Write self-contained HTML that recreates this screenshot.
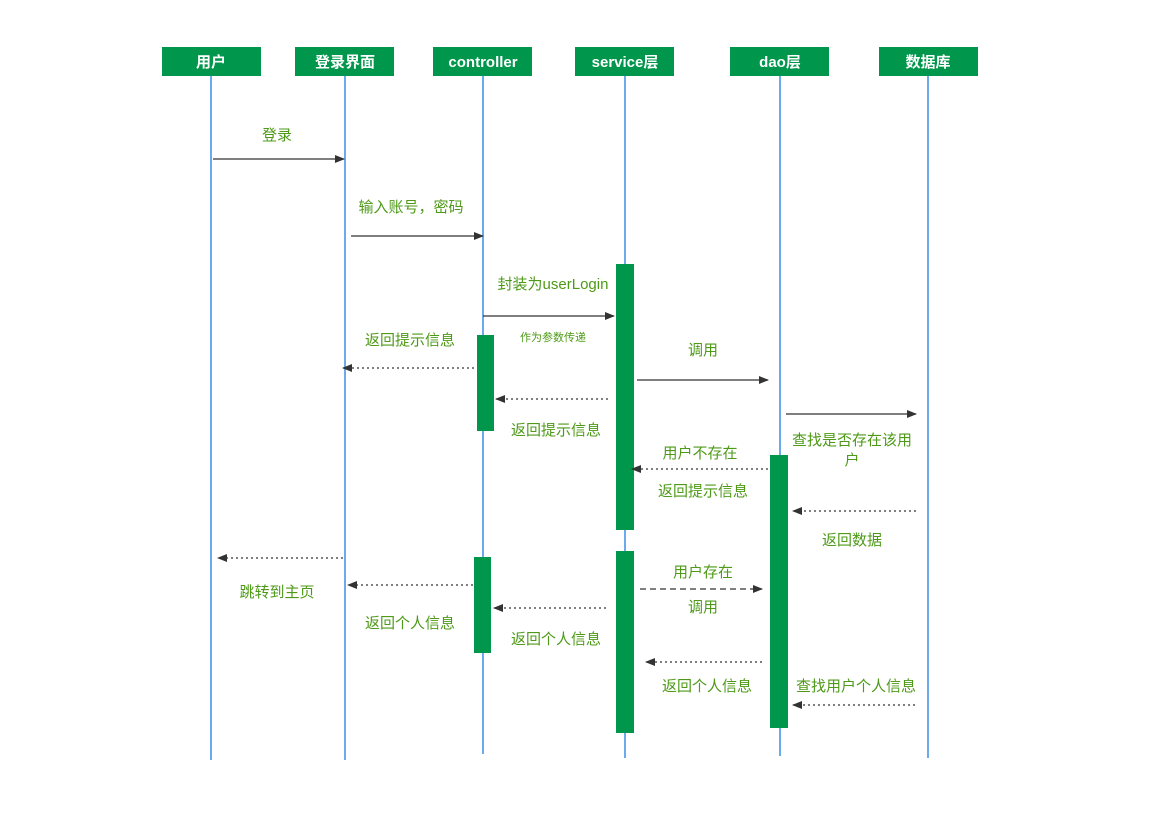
<!DOCTYPE html>
<html><head><meta charset="utf-8"><style>
body{margin:0;background:#fff}
svg{display:block}
text{font-family:"Liberation Sans","Noto Sans CJK SC",sans-serif}
.h{fill:#fff;font-size:15px;font-weight:bold;text-anchor:middle}
.l{fill:#4e9a18;font-size:15px;text-anchor:middle}
</style></head><body>
<svg width="1155" height="836" viewBox="0 0 1155 836" xmlns="http://www.w3.org/2000/svg">
<defs><marker id="a" markerWidth="10" markerHeight="8" refX="9" refY="4" orient="auto" markerUnits="userSpaceOnUse"><path d="M0,0 L10,4 L0,8 z" fill="#333"/></marker></defs>
<g stroke="#3a8ee6" stroke-width="1.5">
<line x1="211" y1="76" x2="211" y2="760"/><line x1="345" y1="76" x2="345" y2="760"/>
<line x1="483" y1="76" x2="483" y2="754"/><line x1="625" y1="76" x2="625" y2="758"/>
<line x1="780" y1="76" x2="780" y2="756"/><line x1="928" y1="76" x2="928" y2="758"/>
</g>
<g fill="#00964b">
<rect x="162" y="47" width="99" height="29"/><rect x="295" y="47" width="99" height="29"/>
<rect x="433" y="47" width="99" height="29"/><rect x="575" y="47" width="99" height="29"/>
<rect x="730" y="47" width="99" height="29"/><rect x="879" y="47" width="99" height="29"/>
<rect x="616" y="264" width="18" height="266"/><rect x="477" y="335" width="17" height="96"/>
<rect x="770" y="455" width="18" height="273"/><rect x="474" y="557" width="17" height="96"/>
<rect x="616" y="551" width="18" height="182"/>
</g>
<text class="h" x="211" y="67">用户</text><text class="h" x="345" y="67">登录界面</text>
<text class="h" x="483" y="67">controller</text><text class="h" x="625" y="67">service层</text>
<text class="h" x="780" y="67">dao层</text><text class="h" x="928" y="67">数据库</text>
<g stroke="#333" stroke-width="1.3" fill="none" marker-end="url(#a)">
<line x1="213" y1="159" x2="344" y2="159"/><line x1="351" y1="236" x2="483" y2="236"/>
<line x1="483" y1="316" x2="614" y2="316"/><line x1="637" y1="380" x2="768" y2="380"/>
<line x1="786" y1="414" x2="916" y2="414"/>
<g stroke-dasharray="2,3">
<line x1="474" y1="368" x2="343" y2="368"/><line x1="608" y1="399" x2="496" y2="399"/>
<line x1="768" y1="469" x2="632" y2="469"/><line x1="916" y1="511" x2="793" y2="511"/>
<line x1="343" y1="558" x2="218" y2="558"/><line x1="473" y1="585" x2="348" y2="585"/>
<line x1="606" y1="608" x2="494" y2="608"/><line x1="762" y1="662" x2="646" y2="662"/>
<line x1="915" y1="705" x2="793" y2="705"/>
</g>
<line x1="640" y1="589" x2="762" y2="589" stroke-dasharray="6,4"/>
</g>
<text class="l" x="277" y="140">登录</text>
<text class="l" x="411" y="212">输入账号，密码</text>
<text class="l" x="553" y="289">封装为userLogin</text>
<text class="l" x="553" y="341" style="font-size:11px">作为参数传递</text>
<text class="l" x="410" y="345">返回提示信息</text>
<text class="l" x="556" y="435">返回提示信息</text>
<text class="l" x="703" y="355">调用</text>
<text class="l" x="852" y="445">查找是否存在该用</text>
<text class="l" x="852" y="465">户</text>
<text class="l" x="700" y="458">用户不存在</text>
<text class="l" x="703" y="496">返回提示信息</text>
<text class="l" x="852" y="545">返回数据</text>
<text class="l" x="277" y="597">跳转到主页</text>
<text class="l" x="410" y="628">返回个人信息</text>
<text class="l" x="556" y="644">返回个人信息</text>
<text class="l" x="703" y="577">用户存在</text>
<text class="l" x="703" y="612">调用</text>
<text class="l" x="707" y="691">返回个人信息</text>
<text class="l" x="856" y="691">查找用户个人信息</text>
</svg>
</body></html>
